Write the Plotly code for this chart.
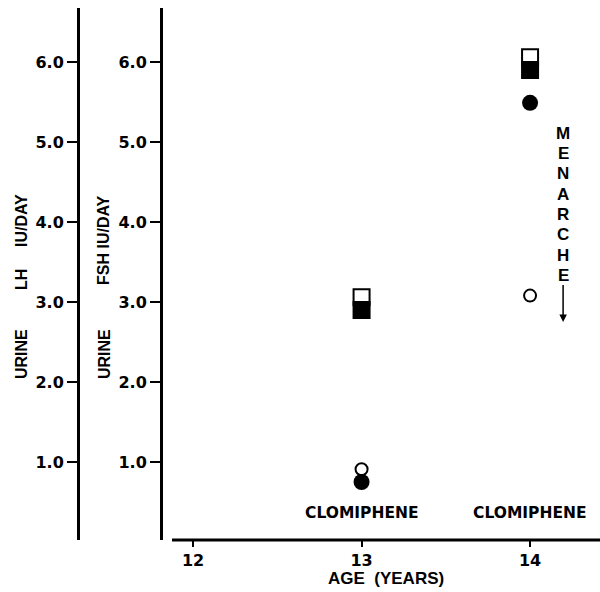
import plotly.graph_objects as go

# ---- data ----
age_ticks = [12, 13, 14]
age_tick_labels = ["12", "13", "14"]
y_ticks = [1, 2, 3, 4, 5, 6]
y_tick_labels = ["1.0", "2.0", "3.0", "4.0", "5.0", "6.0"]

ages = [13, 14]
fsh_open_square = [3.06, 6.06]
fsh_filled_square = [2.90, 5.90]
lh_open_circle = [0.91, 3.08]
lh_filled_circle = [0.75, 5.49]

W, H = 600, 592
FONT = "Liberation Sans, Arial, sans-serif"
DV = "DejaVu Sans, sans-serif"

fig = go.Figure()

fig.add_trace(go.Scatter(x=ages, y=fsh_open_square, mode="markers", yaxis="y",
                         marker=dict(symbol="square", size=16, color="white",
                                     line=dict(color="black", width=2))))
fig.add_trace(go.Scatter(x=ages, y=fsh_filled_square, mode="markers", yaxis="y",
                         marker=dict(symbol="square", size=16, color="black",
                                     line=dict(color="black", width=2))))
fig.add_trace(go.Scatter(x=ages, y=lh_open_circle, mode="markers", yaxis="y2",
                         marker=dict(symbol="circle", size=12, color="white",
                                     line=dict(color="black", width=2))))
fig.add_trace(go.Scatter(x=ages, y=lh_filled_circle, mode="markers", yaxis="y2",
                         marker=dict(symbol="circle", size=16, color="black",
                                     line=dict(color="black", width=0))))

y_dom = [(H - 540) / H, (H - 8) / H]
y_rng = [0.025, 6.675]
tickfont = dict(family=DV, size=16, color="black", weight="bold")

common_y = dict(range=y_rng, domain=y_dom, tickvals=y_ticks, ticktext=y_tick_labels,
                showline=True, linewidth=3, linecolor="black", ticks="outside",
                ticklen=10, tickwidth=1.5, tickcolor="black", showgrid=False,
                zeroline=False, tickfont=tickfont, anchor="free", side="left")

fig.update_layout(
    width=W, height=H, margin=dict(l=0, r=0, t=0, b=0),
    paper_bgcolor="white", plot_bgcolor="white", showlegend=False,
    xaxis=dict(domain=[172 / W, 1.0], range=[11.875, 14.415], tickvals=age_ticks,
               ticktext=age_tick_labels, showline=False,
               ticks="outside", ticklen=6, tickwidth=1.5, tickcolor="black",
               showgrid=False, zeroline=False, tickfont=tickfont, anchor="y"),
    yaxis=dict(position=161 / W, **common_y),
    yaxis2=dict(position=78 / W, overlaying="y", **common_y),
)

def px_x(x):
    return x / W

def px_y(y):
    return (H - y) / H

# x axis line (starts right of the FSH axis, as in the reference)
fig.add_shape(type="line", xref="x domain", yref="paper", x0=0, x1=1,
              y0=px_y(540), y1=px_y(540), line=dict(color="black", width=3))

title_font = dict(family=FONT, size=16, color="black", weight="bold")
# Y axis titles (pieces placed separately)
for xp, text, yp in [(21, "URINE", 354), (21, "LH", 280), (21, "IU/DAY", 221),
                     (104, "URINE", 354), (104, "FSH IU/DAY", 240)]:
    fig.add_annotation(x=px_x(xp), y=px_y(yp), xref="paper", yref="paper", text=text,
                       textangle=-90, showarrow=False, font=title_font,
                       xanchor="center", yanchor="middle")

# x axis title
fig.add_annotation(x=0.5, y=px_y(578), xref="x domain", yref="paper",
                   text="AGE\u00a0\u00a0(YEARS)", showarrow=False,
                   font=dict(family=FONT, size=17, color="black", weight="bold"),
                   xanchor="center", yanchor="middle")

# CLOMIPHENE labels
for xa in ages:
    fig.add_annotation(x=xa, y=0.36, xref="x", yref="y", text="CLOMIPHENE",
                       showarrow=False,
                       font=dict(family=DV, size=15.5, color="black", weight="bold"),
                       xanchor="center", yanchor="middle")

# MENARCHE vertical label (one letter per annotation) and arrow
menarche = list("MENARCHE")
for i, ch in enumerate(menarche):
    fig.add_annotation(x=px_x(563), y=px_y(133 + i * 20.4), xref="paper", yref="paper",
                       text=ch, showarrow=False,
                       font=dict(family=FONT, size=17, color="black", weight="bold"),
                       xanchor="center", yanchor="middle")
fig.add_annotation(x=14.196, y=2.75, xref="x", yref="y", ax=14.196, ay=3.23,
                   axref="x", ayref="y", text="", showarrow=True,
                   arrowhead=2, arrowsize=1, arrowwidth=1.5, arrowcolor="black")

fig.write_html("out.html", config={"displayModeBar": False},
               post_script="document.body.style.margin='0';")
